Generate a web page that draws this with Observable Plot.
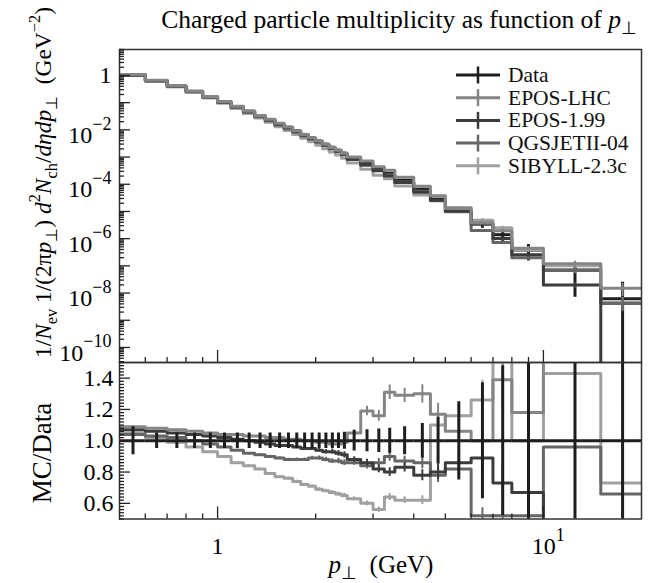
<!DOCTYPE html>
<html><head><meta charset="utf-8">
<script src="https://cdn.jsdelivr.net/npm/d3@7"></script>
<script src="https://cdn.jsdelivr.net/npm/@observablehq/plot@0.6"></script>
<style>
body{margin:0;background:#fff;}
#chart{position:relative;width:648px;height:583px;font-family:"Liberation Serif",serif;background:#fff;}
#chart svg{position:absolute;left:0;top:0;}
</style></head><body><div id="chart"></div>
<script>
// ---- data ----
const binEdges = [0.5,0.6,0.7,0.8,0.9,1.0,1.1,1.2,1.3,1.4,1.5,1.6,1.7,1.8,1.9,2.0,2.1,2.2,2.3,2.4,2.5,2.75,3.0,3.25,3.5,4.0,4.5,5.0,6.0,7.0,8.0,10,15,20];
const dataValues = [1.0,0.62,0.39,0.25,0.16,0.105,0.071,0.048,0.033,0.024,0.017,0.0125,0.0092,0.0068,0.0051,0.0039,0.0030,0.0023,0.0018,0.0014,9.5e-4,6.0e-4,3.8e-4,2.5e-4,1.4e-4,6.5e-5,3.2e-5,1.2e-5,3.8e-6,1.4e-6,3.8e-7,7.0e-8,6.2e-9];
const dataRelErr = [0.09,0.05,0.05,0.05,0.05,0.05,0.05,0.05,0.05,0.05,0.05,0.05,0.05,0.05,0.05,0.05,0.05,0.05,0.05,0.055,0.065,0.07,0.075,0.08,0.09,0.11,0.15,0.25,0.37,0.48,0.6,0.9,3.0];
const ratioEposLhc = [1.09,1.08,1.07,1.06,1.05,1.04,1.04,1.03,1.03,1.02,1.02,1.01,1.01,1.00,1.00,0.99,0.99,0.98,0.98,0.99,1.05,1.19,1.16,1.31,1.29,1.30,1.17,1.06,1.00,1.39,1.18,1.70,2.40];
const ratioEpos199 = [1.07,1.06,1.05,1.04,1.03,1.02,1.01,1.00,0.99,0.98,0.97,0.97,0.96,0.95,0.95,0.94,0.93,0.93,0.92,0.91,0.88,0.86,0.82,0.80,0.83,0.78,0.80,0.86,0.89,0.73,0.67,0.28,0];
const ratioQgsjet = [1.04,1.03,1.02,1.00,0.98,0.96,0.94,0.92,0.91,0.90,0.89,0.88,0.88,0.88,0.89,0.89,0.88,0.87,0.87,0.86,0.86,0.84,0.86,0.90,0.87,0.86,0.78,0.82,0.52,0.52,0.52,0.96,0.66];
const ratioSibyll = [1.05,1.02,0.99,0.96,0.93,0.90,0.86,0.84,0.82,0.79,0.77,0.76,0.74,0.72,0.71,0.69,0.68,0.67,0.66,0.65,0.63,0.60,0.56,0.64,0.62,0.62,1.10,1.16,1.26,1.80,1.00,1.43,0.73];
const mcRelErr = [0.004,0.004,0.004,0.004,0.005,0.005,0.006,0.006,0.007,0.008,0.009,0.01,0.011,0.012,0.013,0.015,0.016,0.018,0.02,0.022,0.02,0.025,0.03,0.035,0.035,0.045,0.06,0.07,0.1,0.14,0.16,0.25,0.5];
const seriesNames = ["Data","EPOS-LHC","EPOS-1.99","QGSJETII-04","SIBYLL-2.3c"];
const seriesColors = ["#1e1e1e","#858585","#3c3c3c","#666666","#a0a0a0"];
const yTopLabelTicks = [1,1e-2,1e-4,1e-6,1e-8,1e-10];
const yRatioLabelTicks = [0.6,0.8,1.0,1.2,1.4];
const xLabelTicks = [1,10];

const models = [
  {name:seriesNames[1], color:seriesColors[1], ratio:ratioEposLhc},
  {name:seriesNames[2], color:seriesColors[2], ratio:ratioEpos199},
  {name:seriesNames[3], color:seriesColors[3], ratio:ratioQgsjet},
  {name:seriesNames[4], color:seriesColors[4], ratio:ratioSibyll}
];
const TINY = 1e-30;
const bins = dataValues.map((v,i)=>({lo:binEdges[i],hi:binEdges[i+1],mid:(binEdges[i]+binEdges[i+1])/2,v,err:dataRelErr[i]}));
function stepPoints(vals){const p=[];vals.forEach((v,i)=>{p.push({x:binEdges[i],y:v},{x:binEdges[i+1],y:v});});return p;}
const pos = v => v>0 ? v : TINY;

// ticks
const yMajorTop=[], yMinorTop=[];
for(let e=-11;e<=0;e++){ if(e>-11) yMajorTop.push(10**e); for(let k=2;k<=9;k++){ const t=k*10**e; if(t>=2.8e-11 && t<=9) yMinorTop.push(t);} }
const xMajor=[1,10], xMinor=[0.6,0.7,0.8,0.9,2,3,4,5,6,7,8,9];
const yRatioMajor=[0.6,0.8,1.0,1.2,1.4], yRatioMinor=[];
for(let k=25;k<=75;k++){const v=k/50; if(!yRatioMajor.some(m=>Math.abs(m-v)<1e-9)) yRatioMinor.push(v);}

const W=648,H=583,ML=119,MR=7;
const FW=W-ML-MR;
const topY0=49, topY1=362, botY1=518.5;
const fmtPow = v => { if(v===1) return "1"; const e=Math.round(Math.log10(v)); return "10^"+(e<0?"\u2212"+(-e):String(e)); };
const baseStyle = {background:"transparent",fontFamily:"Liberation Serif, serif",fontSize:"23px",color:"#000",overflow:"visible"};
const xScale = {type:"log",domain:[0.5,20]};

// ---- top panel ----
const topMarks=[];
topMarks.push(Plot.ruleY(bins,{x1:"lo",x2:"hi",y:"v",stroke:seriesColors[0],strokeWidth:3,clip:true}));
topMarks.push(Plot.ruleX(bins,{x:"mid",y1:d=>pos(d.v*(1-d.err)),y2:d=>d.v*(1+d.err),stroke:seriesColors[0],strokeWidth:3,clip:true}));
models.slice().reverse().forEach(m=>{
  const vals=dataValues.map((d,i)=>pos(d*m.ratio[i]));
  topMarks.push(Plot.line(stepPoints(vals),{x:"x",y:"y",stroke:m.color,strokeWidth:3,clip:true}));
  topMarks.push(Plot.ruleX(bins,{x:"mid",y1:(d,i)=>pos(vals[i]*(1-mcRelErr[i])),y2:(d,i)=>pos(vals[i]*(1+mcRelErr[i])),stroke:m.color,strokeWidth:2,clip:true}));
});
topMarks.push(Plot.frame({stroke:"#333",strokeWidth:1.5}));
topMarks.push(Plot.tickY(yMajorTop,{y:d=>d,insetRight:FW-11,stroke:"#222",strokeWidth:1.3}));
topMarks.push(Plot.tickY(yMinorTop,{y:d=>d,insetRight:FW-5,stroke:"#222",strokeWidth:1.3}));
topMarks.push(Plot.tickX(xMajor,{x:d=>d,insetTop:(topY1-topY0)-12,stroke:"#222",strokeWidth:1.3}));
topMarks.push(Plot.tickX(xMinor,{x:d=>d,insetTop:(topY1-topY0)-5,stroke:"#222",strokeWidth:1.3}));
topMarks.push(Plot.axisY({ticks:yTopLabelTicks,tickFormat:fmtPow,tickSize:0,tickPadding:8,fontSize:24,label:null}));
const topPlot = Plot.plot({width:W,height:H,marginLeft:ML,marginRight:MR,marginTop:topY0,marginBottom:H-topY1,
  x:{...xScale,axis:null}, y:{type:"log",domain:[2.8e-11,9],label:null}, style:baseStyle, marks:topMarks});

// ---- ratio panel ----
const botMarks=[];
models.slice().reverse().forEach(m=>{
  botMarks.push(Plot.line(stepPoints(m.ratio),{x:"x",y:"y",stroke:m.color,strokeWidth:3,clip:true}));
  botMarks.push(Plot.ruleX(bins,{x:"mid",y1:(d,i)=>m.ratio[i]*(1-mcRelErr[i]),y2:(d,i)=>m.ratio[i]*(1+mcRelErr[i]),stroke:m.color,strokeWidth:2,clip:true}));
});
botMarks.push(Plot.ruleY(bins,{x1:"lo",x2:"hi",y:()=>1,stroke:seriesColors[0],strokeWidth:3,clip:true}));
botMarks.push(Plot.ruleX(bins,{x:"mid",y1:d=>1-d.err,y2:d=>1+d.err,stroke:seriesColors[0],strokeWidth:3,clip:true}));
botMarks.push(Plot.frame({stroke:"#333",strokeWidth:1.5}));
botMarks.push(Plot.tickY(yRatioMajor,{y:d=>d,insetRight:FW-11,stroke:"#222",strokeWidth:1.3}));
botMarks.push(Plot.tickY(yRatioMinor,{y:d=>d,insetRight:FW-5,stroke:"#222",strokeWidth:1.3}));
botMarks.push(Plot.tickX(xMajor,{x:d=>d,insetTop:(botY1-topY1)-12,stroke:"#222",strokeWidth:1.3}));
botMarks.push(Plot.tickX(xMinor,{x:d=>d,insetTop:(botY1-topY1)-5,stroke:"#222",strokeWidth:1.3}));
botMarks.push(Plot.axisY({ticks:yRatioLabelTicks,tickFormat:d3.format(".1f"),tickSize:0,tickPadding:6,fontSize:24,label:null}));
botMarks.push(Plot.axisX({ticks:xLabelTicks,tickFormat:fmtPow,tickSize:0,tickPadding:18,fontSize:24,label:null}));
const botPlot = Plot.plot({width:W,height:H,marginLeft:ML,marginRight:MR,marginTop:topY1,marginBottom:H-botY1,
  x:{...xScale,label:null}, y:{domain:[0.5,1.5],label:null}, style:baseStyle, marks:botMarks});

// superscripts in tick labels
function supify(svg, isY){
  svg.querySelectorAll("text").forEach(t=>{
    const m=/^10\^(.+)$/.exec(t.textContent);
    if(m){
      t.textContent="10";
      const ts=document.createElementNS("http://www.w3.org/2000/svg","tspan");
      ts.setAttribute("dy","-0.75em"); ts.setAttribute("font-size","0.75em"); ts.textContent=m[1];
      t.appendChild(ts);
      if(isY){ const y=t.getAttribute("y"); if(y==="0.32em") t.setAttribute("y","0.55em"); else t.setAttribute("dy","0.23em"); }
      else t.setAttribute("dx","0.2em");
    }
  });
}
supify(topPlot,true); supify(botPlot,false);

const chart=document.getElementById("chart");
chart.appendChild(topPlot); chart.appendChild(botPlot);

// ---- overlay: titles and legend ----
const NS="http://www.w3.org/2000/svg";
function el(name,attrs={}){const e=document.createElementNS(NS,name);for(const k in attrs)e.setAttribute(k,attrs[k]);return e;}
const ov=el("svg",{width:W,height:H,viewBox:`0 0 ${W} ${H}`});
ov.style.fontFamily="Liberation Serif, serif";
function rich(segs,attrs,size){
  const t=el("text",{...attrs,"font-size":size});
  t.style.whiteSpace="pre";
  let cur=0;
  for(const s of segs){
    const ts=el("tspan");
    const shift = s.sub ? 0.25*size : s.sup ? -0.45*size : 0;
    ts.setAttribute("dy",(shift-cur).toFixed(2)); cur=shift;
    if(s.sub||s.sup) ts.setAttribute("font-size",(0.7*size).toFixed(2));
    if(s.i) ts.setAttribute("font-style","italic");
    ts.textContent=s.t; t.appendChild(ts);
  }
  ov.appendChild(t); return t;
}
// main title
rich([{t:"Charged particle multiplicity as function of "},{t:"p",i:true},{t:"\u22a5",sub:true}],{x:637,y:28,"text-anchor":"end"},25.5);
// y titles
rich([{t:"1/"},{t:"N",i:true},{t:"ev",sub:true},{t:" 1/(2\u03c0"},{t:"p",i:true},{t:"\u22a5",sub:true},{t:") "},{t:"d",i:true},{t:"2",sup:true},{t:"N",i:true},{t:"ch",sub:true},{t:"/"},{t:"d\u03b7dp",i:true},{t:"\u22a5",sub:true},{t:"  (GeV"},{t:"\u22122",sup:true},{t:")"}],
  {transform:"translate(51,358) rotate(-90)","text-anchor":"start"},23.4);
rich([{t:"MC/Data"}],{transform:"translate(51,453) rotate(-90)","text-anchor":"middle"},27);
// x title
rich([{t:"p",i:true},{t:"\u22a5",sub:true},{t:"  (GeV)"}],{x:381,y:573,"text-anchor":"middle"},25);
// legend
seriesNames.forEach((n,i)=>{
  const y=75+i*22.7;
  ov.appendChild(el("line",{x1:456,x2:500,y1:y,y2:y,stroke:seriesColors[i],"stroke-width":3}));
  ov.appendChild(el("line",{x1:478,x2:478,y1:y-8.5,y2:y+8.5,stroke:seriesColors[i],"stroke-width":2.5}));
  const t=el("text",{x:508,y:y+7,"font-size":21.5,fill:"#111"}); t.textContent=n; ov.appendChild(t);
});
chart.appendChild(ov);
</script></body></html>
